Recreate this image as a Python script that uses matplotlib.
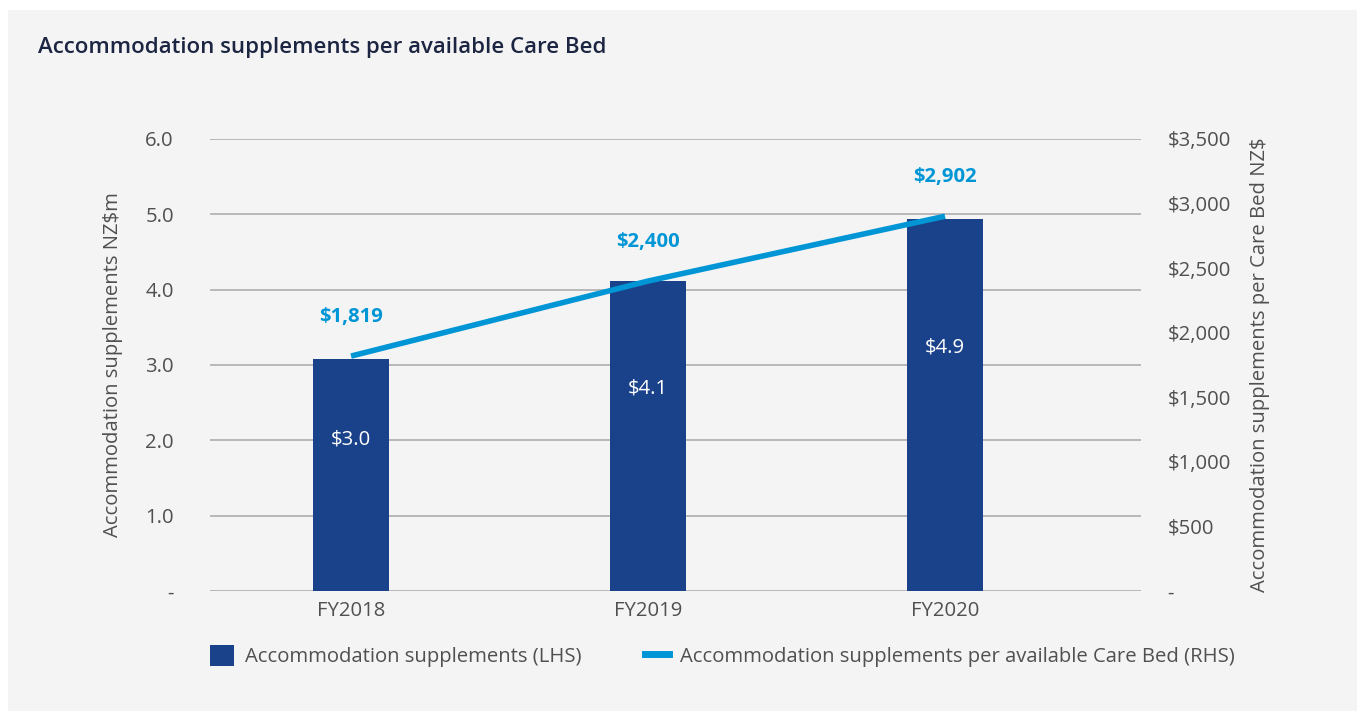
import numpy as np
import matplotlib.pyplot as plt
from matplotlib.patches import Patch, Rectangle
from matplotlib.lines import Line2D

plt.rcParams['font.family'] = ['Open Sans', 'DejaVu Sans']

# data
years = ['FY2018', 'FY2019', 'FY2020']
supplements_m = [3.08, 4.11, 4.94]          # NZ$m (LHS)
supplement_labels = ['$3.0', '$4.1', '$4.9']
per_bed = [1819, 2400, 2902]                # NZ$ per care bed (RHS)
per_bed_labels = ['$1,819', '$2,400', '$2,902']
left_ticks = [0, 1, 2, 3, 4, 5, 6]
left_ticklabels = ['-', '1.0', '2.0', '3.0', '4.0', '5.0', '6.0']
right_ticks = [0, 500, 1000, 1500, 2000, 2500, 3000, 3500]
right_ticklabels = ['-', '$500', '$1,000', '$1,500', '$2,000', '$2,500', '$3,000', '$3,500']

NAVY = '#1a428a'
BLUE = '#0096d6'
GREY_TXT = '#505050'
BG = '#f4f4f4'
FS = 14.6

fig = plt.figure(figsize=(13.57, 7.11), dpi=100)
fig.patch.set_facecolor('white')
fig.patches.append(Rectangle((8 / 1357, 0), 1, 1 - 10 / 711, transform=fig.transFigure,
                             facecolor=BG, edgecolor='none', zorder=-10))

ax = fig.add_axes([210 / 1357, 1 - 591 / 711, (1141 - 210) / 1357, (591 - 139) / 711])
ax.set_facecolor(BG)
x = np.arange(len(years))

ax.bar(x, supplements_m, width=0.256, color=NAVY, zorder=3)
for xi, v, lab in zip(x, supplements_m, supplement_labels):
    ax.text(xi, v * 0.655, lab, color='white', ha='center', va='center', fontsize=FS, zorder=4)

ax.set_ylim(0, 6)
ax.set_xlim(-0.475, 2.66)
ax.set_yticks(left_ticks)
ax.set_yticklabels(left_ticklabels)
ax.set_xticks(x)
ax.set_xticklabels(years)
ax.tick_params(axis='both', length=0, colors=GREY_TXT, labelsize=FS)
ax.tick_params(axis='y', pad=26)
ax.tick_params(axis='x', pad=7)
ax.grid(axis='y', color='#a8a8a8', lw=1.1, zorder=0)
for sp in ax.spines.values():
    sp.set_visible(False)
ax.set_ylabel('Accommodation supplements NZ$m', color=GREY_TXT, fontsize=FS, labelpad=16)

ax2 = ax.twinx()
ax2.plot(x, per_bed, color=BLUE, lw=4, zorder=5, solid_capstyle='butt')
for xi, v, lab in zip(x, per_bed, per_bed_labels):
    ax2.text(xi, v + 300, lab, color=BLUE, ha='center', va='center',
             fontsize=FS, fontweight='bold')
ax2.set_ylim(0, 3500)
ax2.set_yticks(right_ticks)
ax2.set_yticklabels(right_ticklabels)
ax2.tick_params(axis='y', length=0, colors=GREY_TXT, labelsize=FS, pad=19)
for sp in ax2.spines.values():
    sp.set_visible(False)
ax2.set_ylabel('Accommodation supplements per Care Bed NZ$', color=GREY_TXT,
               fontsize=FS, labelpad=14)

fig.text(38 / 1357, 1 - 47 / 711, 'Accommodation supplements per available Care Bed',
         color='#1c2541', fontsize=16, fontweight='semibold', va='center', ha='left')

handles = [Patch(facecolor=NAVY, edgecolor='none'),
           Line2D([0], [0], color=BLUE, lw=5)]
labels = ['Accommodation supplements (LHS)',
          'Accommodation supplements per available Care Bed (RHS)']
leg = fig.legend(handles, labels, loc='center left', ncol=2, frameon=False,
                 bbox_to_anchor=(210 / 1357, 1 - 656 / 711), fontsize=FS,
                 handlelength=1.2, handleheight=1.2, handletextpad=0.55,
                 columnspacing=3.1, borderaxespad=0, borderpad=0)
for t in leg.get_texts():
    t.set_color(GREY_TXT)

fig.savefig('out.png', dpi=100, facecolor=fig.get_facecolor())
